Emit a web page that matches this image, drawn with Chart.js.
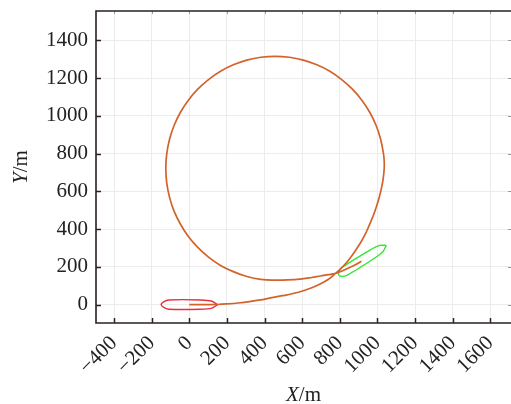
<!DOCTYPE html>
<html>
<head>
<meta charset="utf-8">
<script src="https://cdn.jsdelivr.net/npm/chart.js@4.4.1/dist/chart.umd.min.js"></script>
<style>
  html, body { margin: 0; padding: 0; background: #fff; }
  #wrap { width: 511px; height: 404px; }
</style>
</head>
<body>
<div id="wrap"><canvas id="c" width="511" height="404"></canvas></div>
<script>
// Tick values
const xTicks = [-400, -200, 0, 200, 400, 600, 800, 1000, 1200, 1400, 1600];
const yTicks = [0, 200, 400, 600, 800, 1000, 1200, 1400];

// Ship track
const trackX = [0, 50, 100, 150, 200, 260, 320, 378, 431, 480, 520, 580, 644, 690, 740, 777, 815, 847, 880, 910, 936, 958, 978, 995, 1010, 1022, 1031, 1036, 1036, 1032, 1017, 993, 959, 917, 867, 810, 747, 678, 606, 532, 456, 380, 306, 234, 166, 102, 45, -5, -47, -81, -105, -120, -125, -120, -105, -81, -47, -5, 45, 102, 166, 234, 306, 380, 456, 520, 600, 650, 697, 740, 777, 815, 850, 885, 915];
const trackY = [0, 0, 0, 1, 4, 9, 16, 25, 36, 45, 52, 66, 87, 107, 135, 166, 200, 237, 282, 328, 375, 424, 472, 520, 570, 620, 670, 722, 761, 800, 876, 949, 1019, 1083, 1141, 1192, 1236, 1270, 1295, 1310, 1315, 1310, 1295, 1270, 1236, 1192, 1141, 1083, 1019, 949, 876, 799, 722, 645, 568, 495, 426, 361, 303, 252, 208, 175, 149, 134, 130, 131, 137, 144, 152, 159, 166, 180, 196, 213, 230];

// Ship outline at start (red)
const startShipX = [150, 120, 60, -110, -138, -150, -138, -110, 60, 120, 150];
const startShipY = [0, 18, 25, 25, 14, 1, -13, -24, -24, -18, 0];

// Ship outline at end (green)
const endShipX = [1047, 1012, 958, 813, 793, 795, 809, 840, 984, 1031, 1047];
const endShipY = [314, 314, 288, 198, 173, 157, 150, 157, 246, 283, 314];

const toPts = (xs, ys) => xs.map((x, i) => ({ x: x, y: ys[i] }));
const fmt = v => (v < 0 ? '\u2212' + Math.abs(v) : String(v));
const FONT = 'Liberation Serif';
const FS = 21;

const framePlugin = {
  id: 'frame',
  afterDraw(chart) {
    const ctx = chart.ctx;
    const a = chart.chartArea;
    const xs = chart.scales.x, ys = chart.scales.y;
    ctx.save();
    ctx.strokeStyle = '#2a2020';
    ctx.lineWidth = 1.5;
    xTicks.forEach(v => {
      const px = Math.round(xs.getPixelForValue(v)) + 0.5;
      ctx.beginPath(); ctx.moveTo(px, a.bottom); ctx.lineTo(px, a.bottom - 5); ctx.stroke();
    });
    yTicks.forEach(v => {
      const py = Math.round(ys.getPixelForValue(v)) + 0.5;
      ctx.beginPath(); ctx.moveTo(a.left, py); ctx.lineTo(a.left + 5, py); ctx.stroke();
    });
    ctx.strokeStyle = '#9a9a9a';
    ctx.lineWidth = 1;
    xTicks.forEach(v => {
      const px = Math.round(xs.getPixelForValue(v)) + 0.5;
      ctx.beginPath(); ctx.moveTo(px, a.top); ctx.lineTo(px, a.top + 3); ctx.stroke();
    });
    yTicks.forEach(v => {
      const py = Math.round(ys.getPixelForValue(v)) + 0.5;
      ctx.beginPath(); ctx.moveTo(a.right, py); ctx.lineTo(a.right - 3, py); ctx.stroke();
    });
    ctx.strokeStyle = '#2a2020';
    ctx.lineWidth = 1.6;
    ctx.beginPath();
    ctx.moveTo(a.right + 2, a.top);
    ctx.lineTo(a.left, a.top);
    ctx.lineTo(a.left, a.bottom);
    ctx.lineTo(a.right + 2, a.bottom);
    ctx.stroke();

    ctx.fillStyle = '#222';
    ctx.textBaseline = 'middle';
    ctx.textAlign = 'left';
    const drawTitle = (cx, cy, rot, v, unit) => {
      ctx.save();
      ctx.translate(cx, cy);
      ctx.rotate(rot);
      ctx.font = 'italic ' + FS + 'px "' + FONT + '"';
      const w1 = ctx.measureText(v).width;
      ctx.font = FS + 'px "' + FONT + '"';
      const w2 = ctx.measureText(unit).width;
      const x0 = -(w1 + w2) / 2;
      ctx.font = 'italic ' + FS + 'px "' + FONT + '"';
      ctx.fillText(v, x0, 0);
      ctx.font = FS + 'px "' + FONT + '"';
      ctx.fillText(unit, x0 + w1, 0);
      ctx.restore();
    };
    drawTitle((a.left + a.right) / 2, 395, 0, 'X', '/m');
    drawTitle(21, (a.top + a.bottom) / 2, -Math.PI / 2, 'Y', '/m');
    ctx.restore();
  }
};

new Chart(document.getElementById('c'), {
  type: 'scatter',
  data: {
    datasets: [
      { label: 'track', data: toPts(trackX, trackY), showLine: true, borderColor: '#d4622b', borderWidth: 1.7, pointRadius: 0, tension: 0.4, fill: false },
      { label: 'start', data: toPts(startShipX, startShipY), showLine: true, borderColor: '#e8303a', borderWidth: 1.4, pointRadius: 0, tension: 0.25, fill: false },
      { label: 'end', data: toPts(endShipX, endShipY), showLine: true, borderColor: '#2ee82e', borderWidth: 1.4, pointRadius: 0, tension: 0.25, fill: false }
    ]
  },
  options: {
    responsive: false,
    animation: false,
    devicePixelRatio: 1,
    layout: { padding: { top: 11, right: 0, left: 0, bottom: 0 } },
    plugins: { legend: { display: false }, tooltip: { enabled: false } },
    scales: {
      x: {
        type: 'linear', min: -496, max: 1710,
        afterBuildTicks: s => { s.ticks = xTicks.map(v => ({ value: v })); },
        afterFit: s => { s.height = 81; s.paddingLeft = 0; s.paddingRight = 0; },
        grid: { color: '#ececec', lineWidth: 1, drawTicks: false },
        border: { display: false },
        ticks: { minRotation: 45, maxRotation: 45, padding: 8, autoSkip: false, color: '#222', font: { family: FONT, size: FS }, callback: v => fmt(v) }
      },
      y: {
        type: 'linear', min: -97, max: 1555,
        afterBuildTicks: s => { s.ticks = yTicks.map(v => ({ value: v })); },
        afterFit: s => { s.width = 96; s.paddingTop = 0; s.paddingBottom = 0; },
        grid: { color: '#ececec', lineWidth: 1, drawTicks: false },
        border: { display: false },
        ticks: { padding: 8, autoSkip: false, color: '#222', font: { family: FONT, size: FS }, callback: v => fmt(v) }
      }
    }
  },
  plugins: [framePlugin]
});
</script>
</body>
</html>
